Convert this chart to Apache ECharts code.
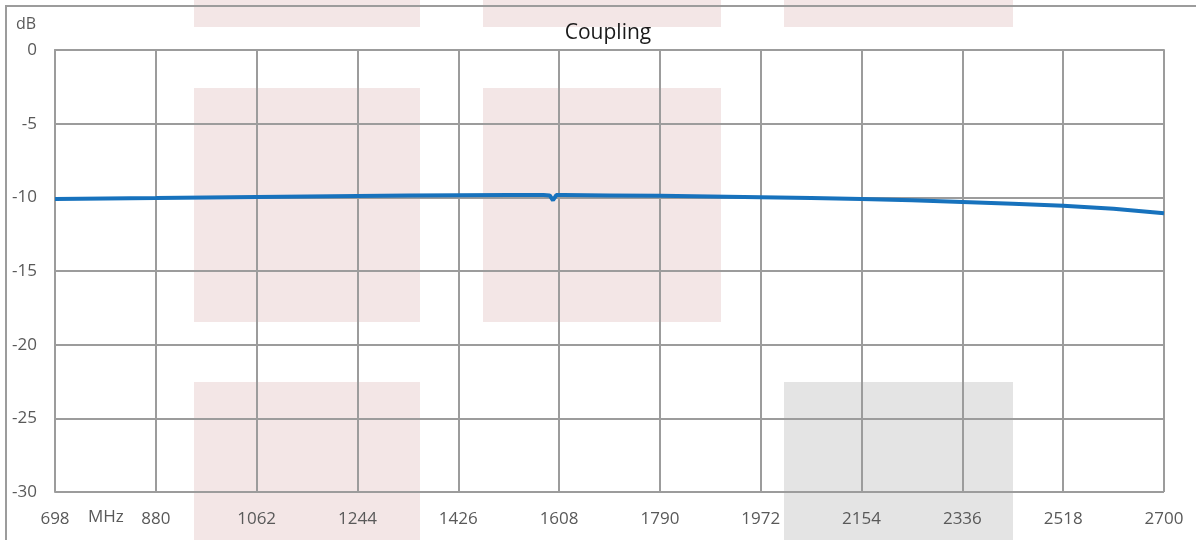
<!DOCTYPE html>
<html>
<head>
<meta charset="utf-8">
<script src="https://cdn.jsdelivr.net/npm/echarts@6/dist/echarts.min.js"></script>
<style>html,body{margin:0;padding:0;background:#fff}#c{width:1196px;height:540px}</style>
</head>
<body>
<div id="c"></div>
<script>
// Data (frequency in MHz, coupling in dB)
const freqMHz = [698, 789, 880, 971, 1062, 1153, 1244, 1335, 1426, 1517, 1580, 1591, 1597, 1603, 1616, 1699, 1790, 1881, 1972, 2063, 2154, 2245, 2336, 2427, 2518, 2609, 2700];
const couplingDb = [-10.11, -10.08, -10.05, -10.01, -9.97, -9.94, -9.91, -9.88, -9.86, -9.84, -9.84, -9.87, -10.2, -9.85, -9.84, -9.87, -9.90, -9.94, -9.99, -10.05, -10.12, -10.20, -10.31, -10.43, -10.57, -10.78, -11.08];
const xStart = 698, xEnd = 2700, xStep = 182;
const yMin = -30, yMax = 0, yStep = 5;
const titleText = 'Coupling';
const yUnit = 'dB';
const xUnit = 'MHz';

const chart = echarts.init(document.getElementById('c'), null, {renderer: 'canvas'});
const F = '"Open Sans", "Liberation Sans", sans-serif';
const gridColor = '#9c9c9c';
const pink = '#f3e6e6', gray = '#e4e4e4';
function rect(x, y, w, h, c) {
  return {type: 'rect', z: -10, silent: true, shape: {x, y, width: w, height: h}, style: {fill: c}};
}
chart.setOption({
  animation: false,
  backgroundColor: '#fff',
  title: {text: titleText, left: 603, top: 18, textAlign: 'center',
    textStyle: {fontFamily: F, fontSize: 21, fontWeight: 'normal', color: '#1a1a1a'}},
  grid: {left: 55, right: 32, top: 50, bottom: 48},
  graphic: [
    rect(194, 0, 226, 27, pink), rect(483, 0, 238, 27, pink), rect(784, 0, 229, 27, pink),
    rect(194, 88, 226, 234, pink), rect(483, 88, 238, 234, pink),
    rect(194, 382, 226, 170, pink), rect(784, 382, 229, 170, gray),
    {type: 'rect', z: -5, silent: true, shape: {x: 6, y: 6, width: 1400, height: 800},
      style: {fill: null, stroke: gridColor, lineWidth: 2}},
    {type: 'text', left: 16, top: 16, style: {text: yUnit, font: '16px ' + F, fill: '#595959'}},
    {type: 'text', left: 88, top: 509, style: {text: xUnit, font: '17px ' + F, fill: '#595959'}}
  ],
  xAxis: {
    type: 'value', min: 0, max: xEnd - xStart, interval: xStep,
    axisLine: {show: true, lineStyle: {color: gridColor, width: 2}},
    axisTick: {show: false},
    splitLine: {show: true, lineStyle: {color: gridColor, width: 2}},
    axisLabel: {fontFamily: F, fontSize: 17, color: '#595959', margin: 19,
      formatter: v => String(Math.round(v + xStart)), showMinLabel: true, showMaxLabel: true}
  },
  yAxis: {
    type: 'value', min: yMin, max: yMax, interval: yStep,
    axisLine: {show: true, lineStyle: {color: gridColor, width: 2}},
    axisTick: {show: false},
    splitLine: {show: true, lineStyle: {color: gridColor, width: 2}},
    axisLabel: {fontFamily: F, fontSize: 17, color: '#595959', margin: 18, padding: [5, 0, 0, 0]}
  },
  series: [{
    type: 'line', showSymbol: false, smooth: false,
    lineStyle: {color: '#1772bd', width: 4},
    data: freqMHz.map((f, i) => [f - xStart, couplingDb[i]])
  }]
});
</script>
</body>
</html>
